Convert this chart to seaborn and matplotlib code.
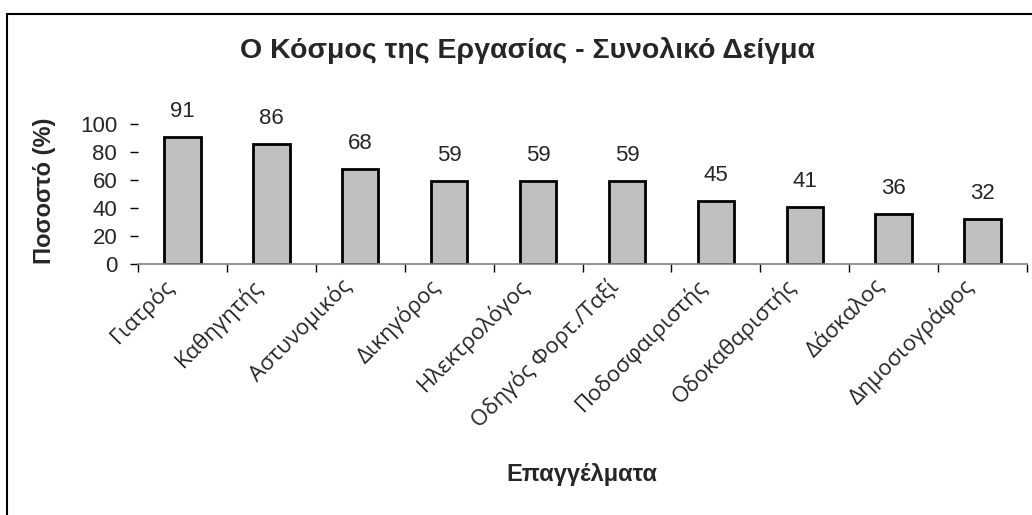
import matplotlib
matplotlib.use("Agg")
import matplotlib.pyplot as plt
import matplotlib.transforms as mtransforms
import seaborn as sns
import pandas as pd
from matplotlib.patches import Rectangle
from matplotlib.ticker import FixedLocator

categories = ["Γιατρός", "Καθηγητής", "Αστυνομικός", "Δικηγόρος", "Ηλεκτρολόγος",
              "Οδηγός Φορτ./Ταξί", "Ποδοσφαιριστής", "Οδοκαθαριστής", "Δάσκαλος", "Δημοσιογράφος"]
values = [91, 86, 68, 59, 59, 59, 45, 41, 36, 32]
yticks = [0, 20, 40, 60, 80, 100]

title = "Ο Κόσμος της Εργασίας - Συνολικό Δείγμα"
ylabel = "Ποσοστό (%)"
xlabel = "Επαγγέλματα"

sns.set_theme(style="white")
plt.rcParams['font.family'] = ['Liberation Sans', 'DejaVu Sans']

df = pd.DataFrame({"cat": categories, "val": values})

fig = plt.figure(figsize=(10.32, 5.15), dpi=100)
ax = fig.add_axes([138/1032, 1-264/515, (1027-138)/1032, 140/515])

sns.barplot(data=df, x="cat", y="val", ax=ax, color="#C0C0C0", saturation=1,
            width=0.41, edgecolor="black", linewidth=2)

ax.set_xlim(-0.5, len(categories)-0.5)
ax.set_ylim(0, 100)
ax.set_yticks(yticks)
ax.set_yticklabels([str(t) for t in yticks], fontsize=16)
ax.tick_params(axis='y', length=6, width=1, color='black', direction='out', left=True, pad=9)
ax.tick_params(axis='x', which='major', length=0, pad=8)
ax.xaxis.set_minor_locator(FixedLocator([i - 0.5 for i in range(len(categories)+1)]))
ax.tick_params(axis='x', which='minor', length=6, width=1, color='black', direction='out', bottom=True)

ax.set_xticks(range(len(categories)))
ax.set_xticklabels(categories, rotation=45, ha='right', rotation_mode='anchor',
                   fontsize=16, family=['Open Sans', 'DejaVu Sans'])
shift = mtransforms.ScaledTranslation(-20/100, 0, fig.dpi_scale_trans)
for lab in ax.get_xticklabels():
    lab.set_transform(lab.get_transform() + shift)

for s in ['top', 'right', 'left']:
    ax.spines[s].set_visible(False)
ax.spines['bottom'].set_color('#808080')
ax.spines['bottom'].set_linewidth(1.2)

for i, v in enumerate(values):
    ax.annotate(str(v), xy=(i, v), xytext=(0, 14.4), textcoords='offset points',
                ha='center', va='baseline', fontsize=16, clip_on=False)

ax.set_xlabel("")
ax.set_ylabel("")
fig.text(45/1032, 1-191/515, ylabel, rotation=90, ha='center', va='center',
         fontsize=17, fontweight='bold')
fig.text(582/1032, 1-475/515, xlabel, ha='center', va='center',
         fontsize=17, fontweight='bold')
fig.text(527/1032, 1-50/515, title, ha='center', va='center',
         fontsize=20.5, fontweight='bold')

fig.patches.append(Rectangle((7/1032, -0.05), 1.2, 1-14/515+0.05, transform=fig.transFigure,
                             fill=False, edgecolor='black', linewidth=1.5))

fig.savefig("out.png", dpi=100)
